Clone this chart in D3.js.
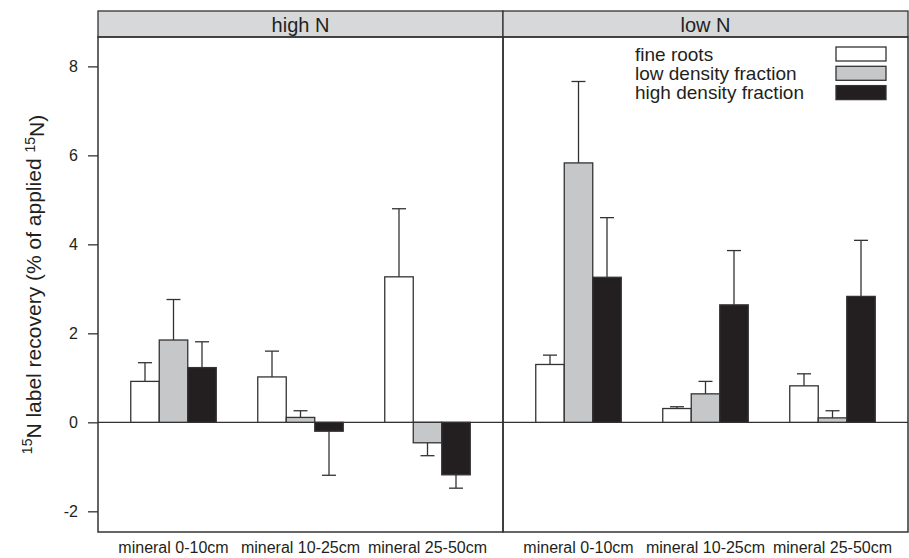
<!DOCTYPE html>
<html>
<head>
<meta charset="utf-8">
<script src="https://cdn.jsdelivr.net/npm/d3@7"></script>
<style>
  body { margin: 0; background: #fff; }
  text { font-family: "Liberation Sans", Arial, sans-serif; fill: #231f20; }
</style>
</head>
<body>
<div id="chart_div"></div>
<script>
// chart data
let panels = ["high N", "low N"]
let depths = ["mineral 0-10cm", "mineral 10-25cm", "mineral 25-50cm"]
let fractions = ["fine roots", "low density fraction", "high density fraction"]
let fill_colors = ["#ffffff", "#c6c7c9", "#231f20"]

// mean values, [depth][fraction]
let highN_values = [[0.92, 1.85, 1.23], [1.02, 0.11, -0.20], [3.27, -0.46, -1.18]]
let lowN_values = [[1.30, 5.83, 3.26], [0.31, 0.64, 2.64], [0.82, 0.10, 2.83]]
// standard errors
let highN_se = [[0.42, 0.91, 0.58], [0.58, 0.15, 0.99], [1.53, 0.29, 0.30]]
let lowN_se = [[0.21, 1.83, 1.34], [0.04, 0.28, 1.22], [0.27, 0.16, 1.26]]

let y_ticks = [-2, 0, 2, 4, 6, 8]

let width = 909
let height = 558
let strip_top = 11
let strip_bottom = 37
let plot_bottom = 532
let plot_left = 98
let plot_right = 908
let line_color = "#333333"

window.onload = function () {
  let rows = []
  let allValues = [highN_values, lowN_values]
  let allSe = [highN_se, lowN_se]
  panels.forEach((p, pi) => {
    depths.forEach((d, di) => {
      fractions.forEach((f, fi) => {
        rows.push({panel: p, depth: d, fraction: f, fi: fi,
                   value: allValues[pi][di][fi], se: allSe[pi][di][fi]})
      })
    })
  })
  draw(rows)
}

function draw(rows) {
  let svg = d3.select("#chart_div")
    .append("svg")
    .attr("width", width)
    .attr("height", height)

  let xPanel = d3.scaleBand().domain(panels).range([plot_left, plot_right]).padding(0)
  let xGroup = d3.scaleBand().domain(depths).range([0, xPanel.bandwidth()])
    .paddingInner(0).paddingOuter(0.0945)
  let bw = xGroup.bandwidth()
  let xBar = d3.scaleBand().domain(fractions).range([bw * 0.1634, bw * 0.8366]).padding(0)

  let y = d3.scaleLinear().domain([-2.465, 8.66]).range([plot_bottom, strip_bottom])

  // strips
  panels.forEach(p => {
    svg.append("rect")
      .attr("x", xPanel(p)).attr("y", strip_top)
      .attr("width", xPanel.bandwidth()).attr("height", strip_bottom - strip_top)
      .attr("fill", "#d7d8da").attr("stroke", line_color).attr("stroke-width", 1.3)
    svg.append("text")
      .attr("x", xPanel(p) + xPanel.bandwidth() / 2).attr("y", strip_top + 21)
      .attr("text-anchor", "middle").style("font-size", "20px")
      .text(p)
  })

  // zero line
  svg.append("line")
    .attr("x1", plot_left).attr("x2", plot_right)
    .attr("y1", y(0)).attr("y2", y(0))
    .attr("stroke", line_color).attr("stroke-width", 1.3)

  let barX = d => xPanel(d.panel) + xGroup(d.depth) + xBar(d.fraction)

  // bars
  svg.append("g").selectAll("rect")
    .data(rows)
    .join("rect")
    .attr("x", d => barX(d))
    .attr("width", xBar.bandwidth())
    .attr("y", d => y(Math.max(0, d.value)))
    .attr("height", d => Math.abs(y(d.value) - y(0)))
    .attr("fill", d => fill_colors[d.fi])
    .attr("stroke", line_color).attr("stroke-width", 1.3)

  // error bars, pointing away from zero
  let errEnd = d => d.value >= 0 ? d.value + d.se : d.value - d.se
  let eg = svg.append("g").selectAll("g").data(rows).join("g")
  eg.append("line")
    .attr("x1", d => barX(d) + xBar.bandwidth() / 2)
    .attr("x2", d => barX(d) + xBar.bandwidth() / 2)
    .attr("y1", d => y(d.value)).attr("y2", d => y(errEnd(d)))
    .attr("stroke", line_color).attr("stroke-width", 1.3)
  eg.append("line")
    .attr("x1", d => barX(d) + xBar.bandwidth() / 2 - 7)
    .attr("x2", d => barX(d) + xBar.bandwidth() / 2 + 7)
    .attr("y1", d => y(errEnd(d))).attr("y2", d => y(errEnd(d)))
    .attr("stroke", line_color).attr("stroke-width", 1.3)

  // panel borders
  panels.forEach(p => {
    svg.append("rect")
      .attr("x", xPanel(p)).attr("y", strip_bottom)
      .attr("width", xPanel.bandwidth()).attr("height", plot_bottom - strip_bottom)
      .attr("fill", "none").attr("stroke", line_color).attr("stroke-width", 1.5)
  })

  // y axis
  let yAxis = svg.append("g")
    .attr("transform", "translate(" + plot_left + ",0)")
    .call(d3.axisLeft(y).tickValues(y_ticks).tickFormat(d => String(d))
      .tickSize(10).tickPadding(10).tickSizeOuter(0))
  yAxis.select(".domain").remove()
  yAxis.selectAll("line").attr("stroke", line_color).attr("stroke-width", 1.3)
  yAxis.selectAll("text")
    .style("font-size", "16px").style("font-family", "Liberation Sans, Arial, sans-serif")
    .attr("fill", "#231f20")

  // x labels
  panels.forEach(p => {
    depths.forEach(d => {
      svg.append("text")
        .attr("x", xPanel(p) + xGroup(d) + bw / 2).attr("y", 553)
        .attr("text-anchor", "middle").style("font-size", "16px")
        .text(d)
    })
  })

  // y title with superscripts
  let title = svg.append("text")
    .attr("transform", "translate(38," + (strip_bottom + plot_bottom) / 2 + ") rotate(-90)")
    .attr("text-anchor", "middle").style("font-size", "21px")
  title.append("tspan").attr("dy", "-0.45em").style("font-size", "14px").text("15")
  title.append("tspan").attr("dy", "0.45em").text("N label recovery (% of applied ")
  title.append("tspan").attr("dy", "-0.45em").style("font-size", "14px").text("15")
  title.append("tspan").attr("dy", "0.45em").text("N)")

  // legend
  let lg = svg.append("g")
  fractions.forEach((f, i) => {
    lg.append("text")
      .attr("x", 635).attr("y", 61 + i * 19)
      .style("font-size", "19px")
      .text(f)
    lg.append("rect")
      .attr("x", 836).attr("y", 47 + i * 19.3)
      .attr("width", 50).attr("height", 14)
      .attr("fill", fill_colors[i]).attr("stroke", line_color).attr("stroke-width", 1.3)
  })
}
</script>
</body>
</html>
